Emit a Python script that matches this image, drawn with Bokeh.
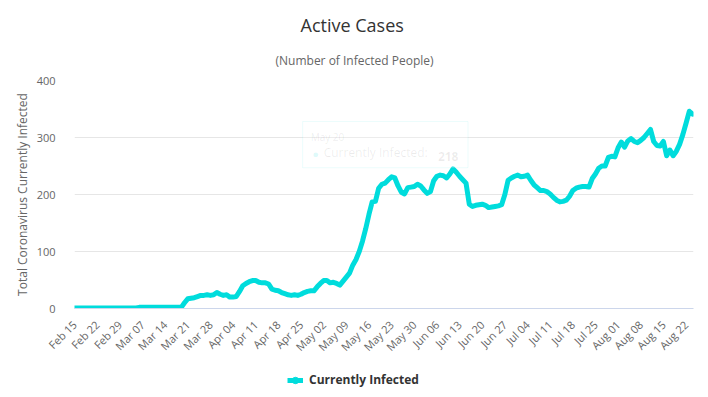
from bokeh.plotting import figure
from bokeh.layouts import column
from bokeh.models import (Legend, LegendItem, Title, FixedTicker, BoxAnnotation,
                          Label, Range1d, ColumnDataSource)
from bokeh.embed import file_html
from bokeh.resources import INLINE
import math

# ---- data (daily, Feb 15 .. Aug 24) ----
tick_labels = ["Feb 15", "Feb 22", "Feb 29", "Mar 07", "Mar 14", "Mar 21", "Mar 28",
               "Apr 04", "Apr 11", "Apr 18", "Apr 25", "May 02", "May 09", "May 16",
               "May 23", "May 30", "Jun 06", "Jun 13", "Jun 20", "Jun 27", "Jul 04",
               "Jul 11", "Jul 18", "Jul 25", "Aug 01", "Aug 08", "Aug 15", "Aug 22"]

active = [
    1, 1, 1, 1, 1, 1, 1, 1, 1, 1, 1, 1, 1, 1, 1, 1, 1, 1, 1, 1,
    2, 2, 2, 2, 2, 2, 2, 2, 2, 2, 2, 2, 2, 2,
    10, 17, 18, 19, 21, 23, 23, 24, 23, 24, 28, 25, 23, 24, 20, 20,
    21, 30, 40, 44, 47, 49, 49, 46, 45, 45, 43, 34, 32, 31, 28, 26,
    24, 23, 24, 23, 25, 28, 30, 31, 31, 38, 44, 49, 49, 45, 46, 44,
    41, 48, 55, 62, 76, 86, 100, 118, 140, 165, 187, 188, 211, 218, 220, 226,
    231, 229, 215, 204, 201, 212, 213, 214, 218, 215, 208, 202, 205, 224, 232, 234,
    233, 229, 236, 245, 239, 232, 226, 220, 183, 179, 181, 182, 183, 181, 177, 178,
    179, 180, 182, 200, 225, 229, 232, 234, 231, 232, 234, 225, 217, 212, 207, 207,
    205, 201, 195, 190, 187, 188, 190, 197, 207, 211, 213, 214, 214, 213, 228, 236,
    246, 250, 250, 265, 267, 266, 282, 292, 283, 294, 298, 293, 291, 295, 300, 307,
    314, 293, 286, 285, 293, 268, 278, 268, 276, 288, 305, 325, 346, 341,
]
series_name = "Currently Infected"
tip_index = 95
tip_date = "May 20"
y_ticks = [0, 100, 200, 300, 400]

days = list(range(len(active)))
src = ColumnDataSource(dict(day=days, val=active))

COL = "#00dcdc"
FONT = "Open Sans"

p = figure(width=708, height=365, output_backend="svg", toolbar_location=None,
           x_range=Range1d(0, 191.3), y_range=Range1d(0, 400),
           min_border_left=74, min_border_right=15, min_border_top=80,
           min_border_bottom=57, background_fill_color="white",
           border_fill_color="white")
p.outline_line_color = None
p.title.visible = False

# titles (left aligned and shifted so that they sit centred on the page)
p.add_layout(Title(text="(Number of Infected People)", align="left",
                   text_font=FONT, text_font_size="12px", text_font_style="normal",
                   text_color="#666666", standoff=24, offset=201), "above")
p.add_layout(Title(text="Active Cases", align="left", text_font=FONT,
                   text_font_size="18px", text_font_style="normal",
                   text_color="#333333", standoff=1, offset=226), "above")

line_r = p.line("day", "val", source=src, line_width=5, line_color=COL,
                line_join="round", line_cap="round")

# axes
xa = p.xaxis[0]
xa.ticker = FixedTicker(ticks=[i * 7 for i in range(len(tick_labels))])
xa.major_label_overrides = {i * 7: t for i, t in enumerate(tick_labels)}
xa.major_label_orientation = math.pi / 4
xa.major_label_text_font = FONT
xa.major_label_text_font_size = "11px"
xa.major_label_text_color = "#666666"
xa.major_tick_line_color = None
xa.minor_tick_line_color = None
xa.axis_line_color = "#ccd6eb"
xa.major_label_standoff = 8

ya = p.yaxis[0]
ya.ticker = FixedTicker(ticks=y_ticks)
ya.major_label_text_font = FONT
ya.major_label_text_font_size = "11px"
ya.major_label_text_color = "#666666"
ya.major_tick_line_color = None
ya.minor_tick_line_color = None
ya.axis_line_color = None
ya.major_label_standoff = 13
ya.axis_label = "Total Coronavirus Currently Infected"
ya.axis_label_text_font = FONT
ya.axis_label_text_font_size = "12px"
ya.axis_label_text_font_style = "normal"
ya.axis_label_text_color = "#666666"
ya.axis_label_standoff = 3

p.xgrid.grid_line_color = None
p.ygrid.grid_line_color = "#e6e6e6"

# faded tooltip
tv = active[tip_index]
p.add_layout(BoxAnnotation(left=tip_index - 24.5, right=tip_index + 26.6,
                           bottom=tv + 29, top=tv + 110,
                           fill_color="white", fill_alpha=0.25,
                           line_color=COL, line_alpha=0.08, line_width=1))
p.add_layout(Label(x=tip_index - 22, y=tv + 71, text=tip_date, text_font=FONT,
                   text_font_size="10px", text_color="#333333", text_alpha=0.09))
p.add_layout(Label(x=tip_index - 21.5, y=tv + 41, text="●", text_font=FONT,
                   text_font_size="11px", text_color=COL, text_alpha=0.15))
p.add_layout(Label(x=tip_index - 18, y=tv + 41, text=series_name + ": ",
                   text_font=FONT, text_font_size="12px", text_color="#333333",
                   text_alpha=0.09))
p.add_layout(Label(x=tip_index + 17.3, y=tv + 41, text=str(tv), text_font=FONT,
                   text_font_size="12px", text_font_style="bold",
                   text_color="#333333", text_alpha=0.09))

# ---- legend strip under the chart (its frame is aligned with the chart's) ----
lg = figure(width=708, height=32, output_backend="svg", toolbar_location=None,
            x_range=Range1d(0, 1), y_range=Range1d(0, 1),
            min_border=0, min_border_left=0, min_border_right=0,
            min_border_top=0, min_border_bottom=0,
            background_fill_color="white", border_fill_color="white")
lg.axis.visible = False
lg.grid.visible = False
lg.outline_line_color = None
# legend-only proxies, placed outside the strip's visible range
lg_line = lg.line(x=[-3, -2], y=[-3, -3], line_width=5, line_color=COL)
lg_dot = lg.scatter(x=[-3], y=[-3], size=9, marker="circle", fill_color=COL,
                    line_color=COL)
legend = Legend(items=[LegendItem(label=series_name, renderers=[lg_line, lg_dot])],
                location=(213, 9), orientation="horizontal",
                label_text_font=FONT, label_text_font_size="12px",
                label_text_font_style="bold", label_text_color="#333333",
                glyph_width=16, glyph_height=16, label_standoff=6,
                label_height=16, padding=0, spacing=0,
                border_line_color=None, background_fill_alpha=0, margin=0)
lg.add_layout(legend)

page = column(p, lg, spacing=0)
open("out.html", "w").write(file_html(page, INLINE))
